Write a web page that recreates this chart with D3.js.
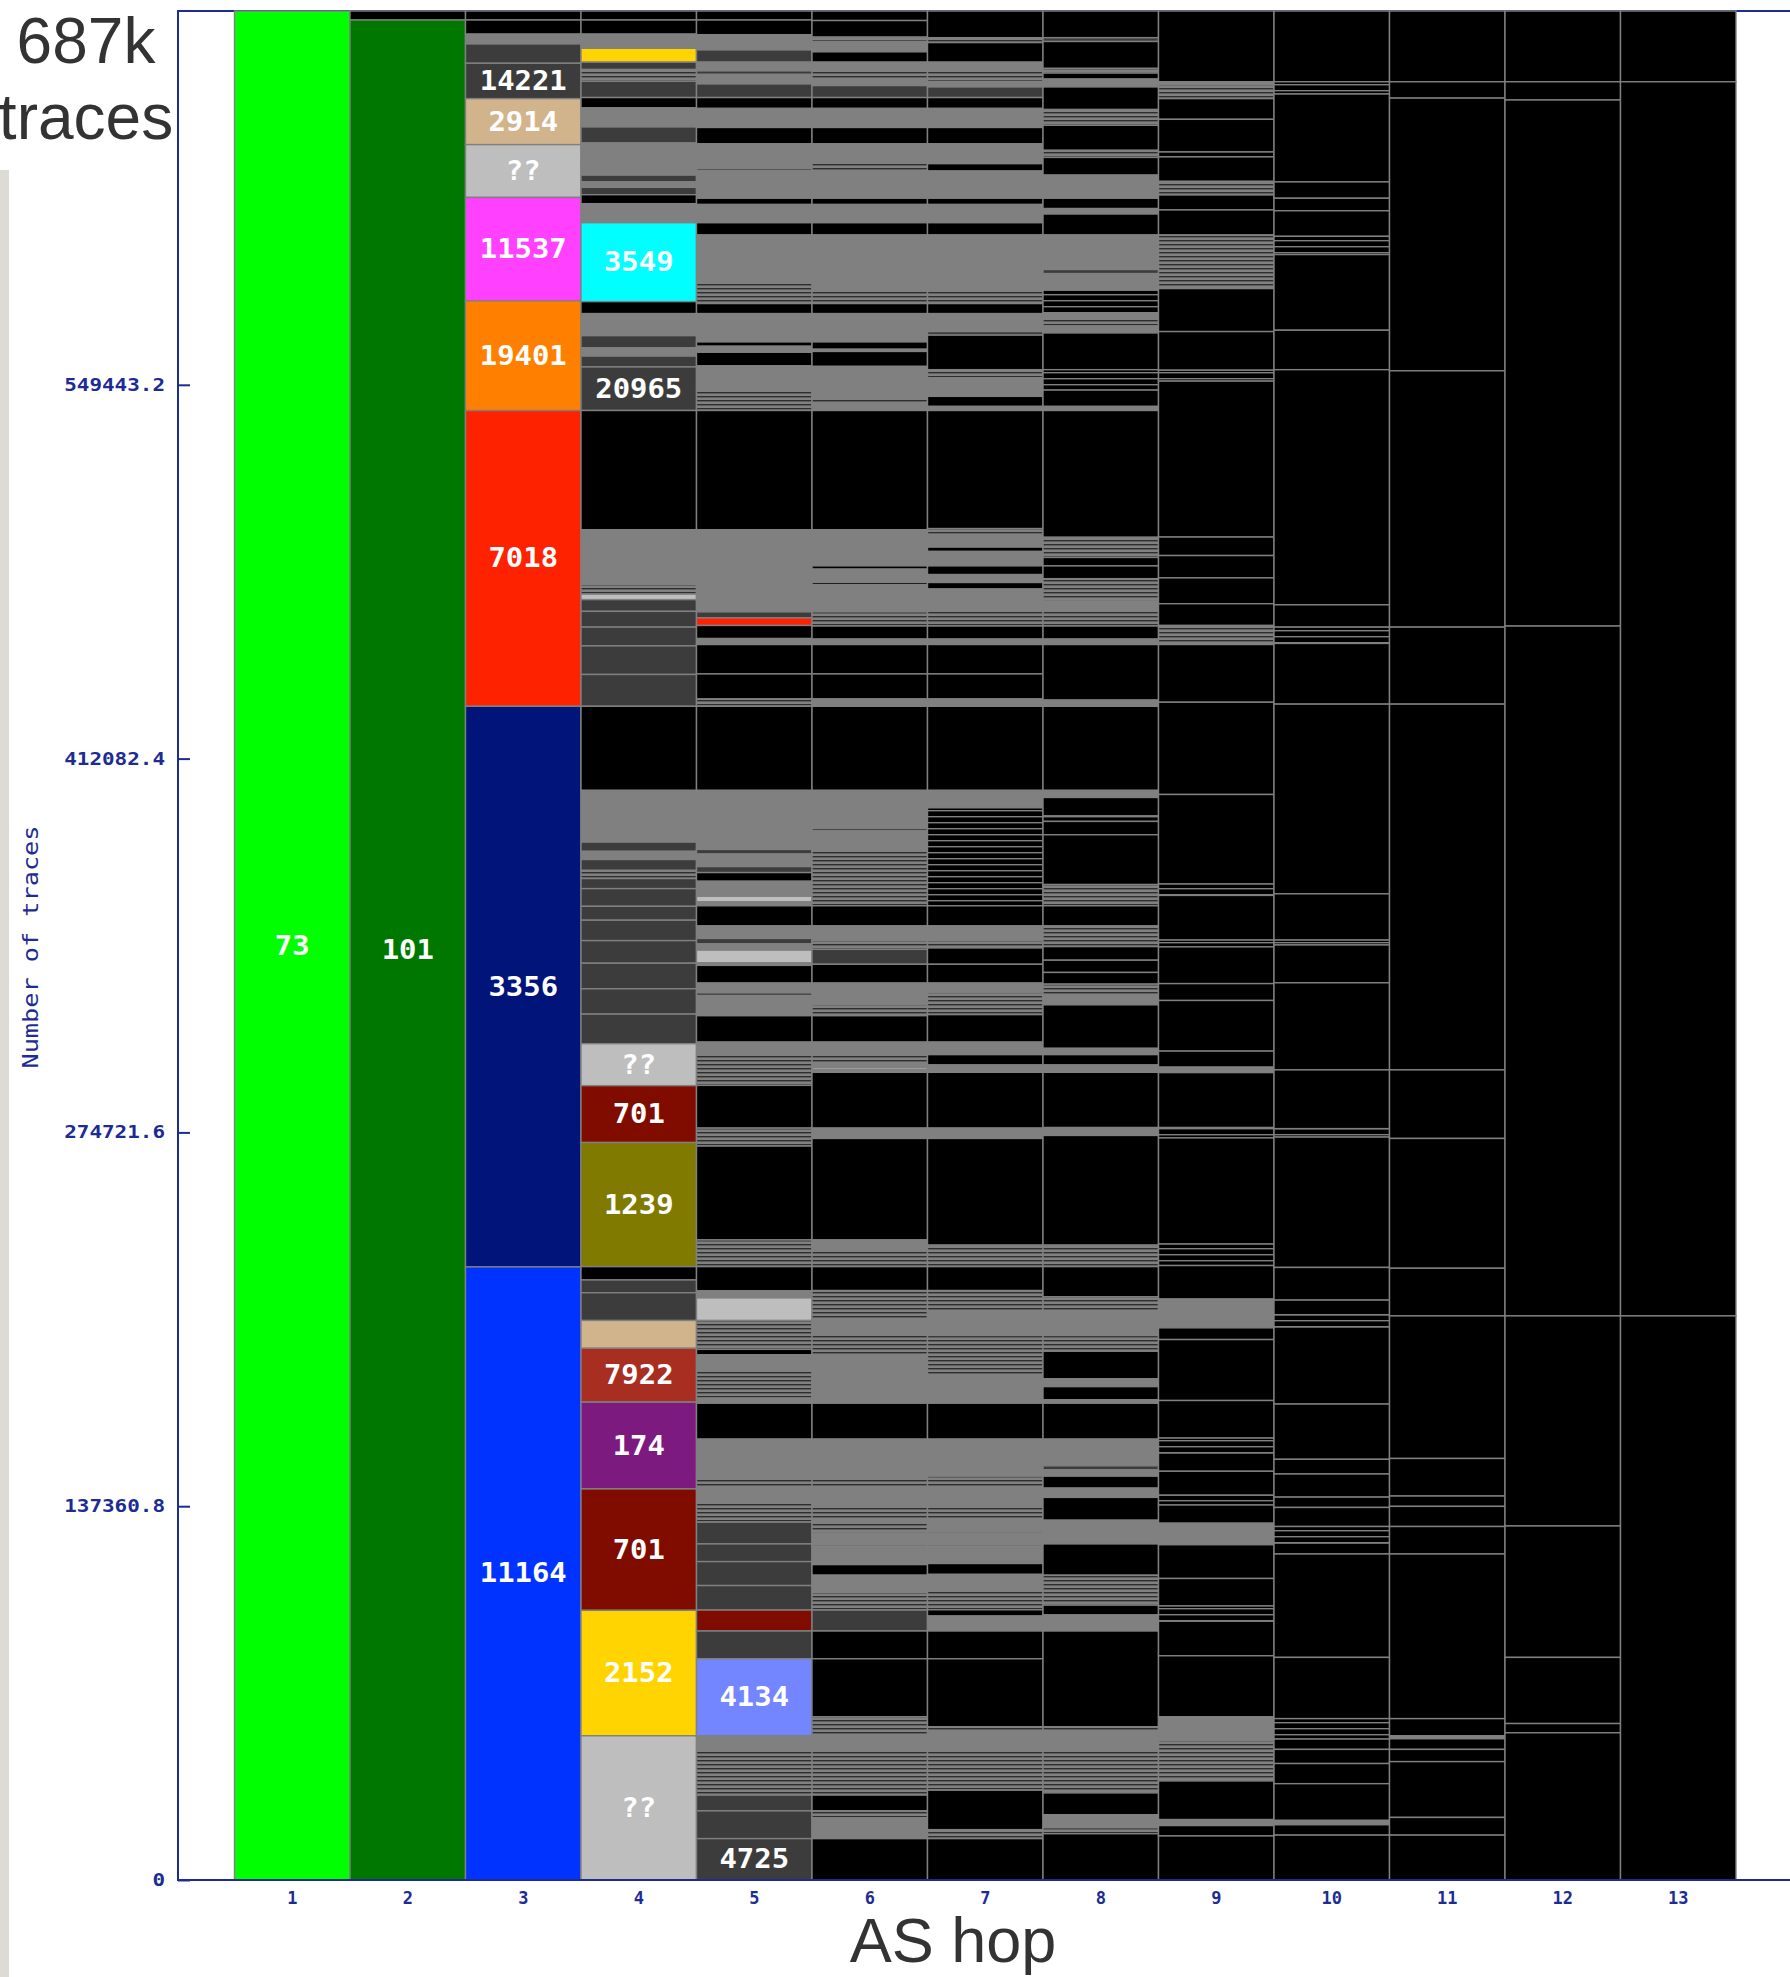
<!DOCTYPE html>
<html>
<head>
<meta charset="utf-8">
<script src="https://cdn.jsdelivr.net/npm/d3@7"></script>
<style>
  body { margin: 0; background: #fff; }
</style>
</head>
<body>
<script>
// AS hop icicle: segments per hop, values in thousands of traces [hi, lo, fill, label]
const hops = [1, 2, 3, 4, 5, 6, 7, 8, 9, 10, 11, 12, 13];
const totalTraces = 686804;
const yTicks = [0, 137360.8, 274721.6, 412082.4, 549443.2];
const yTickLabels = ["0", "137360.8", "274721.6", "412082.4", "549443.2"];

const col1 = [[686.8, 0, "lime", "73"]];
const col2 = [[686.8, 683.5, "black"], [683.5, 0, "green", "101"]];
const col3 = [
  [686.8, 683.5, "black"], [683.5, 678.3, "black"], [678.3, 674.7, "gray"], [674.7, 667.6, "dark"],
  [667.6, 654.6, "dark", "14221"], [654.6, 637.7, "tan", "2914"], [637.7, 618.3, "light", "??"],
  [618.3, 580.3, "magenta", "11537"], [580.3, 540.0, "orange", "19401"], [540.0, 431.3, "red", "7018"],
  [431.3, 225.3, "navy", "3356"], [225.3, 0, "blue", "11164"]
];
const col4 = [
  [686.8, 683.5, "black"], [683.5, 678.3, "black"], [678.3, 673.1, "gray"], [673.1, 668.0, "yellow"],
  [668.0, 665.3, "dark"], [665.3, 661.0, "lines"], [661.0, 655.0, "dark"], [655.0, 651.2, "black"],
  [651.2, 644.2, "gray"], [644.2, 638.3, "dark"], [638.3, 629.5, "gray"], [629.5, 626.5, "gray"],
  [626.5, 624.0, "dark"], [624.0, 622.0, "gray"], [622.0, 619.3, "dark"], [619.3, 616.0, "black"],
  [616.0, 609.0, "gray"], [609.0, 580.0, "cyan", "3549"], [580.0, 575.6, "black"], [575.6, 567.5, "gray"],
  [567.5, 563.0, "dark"], [563.0, 560.0, "gray"], [560.0, 556.0, "dark"], [556.0, 540.0, "dark", "20965"],
  [540.0, 496.2, "black"], [496.2, 476.1, "gray"], [476.1, 472.5, "lines"], [472.5, 470.5, "light"],
  [470.5, 466.2, "dark"], [466.2, 460.4, "dark"], [460.4, 453.5, "dark"], [453.5, 443.0, "dark"],
  [443.0, 431.3, "dark"], [431.3, 400.4, "black"], [400.4, 381.4, "gray"], [381.4, 378.0, "dark"],
  [378.0, 375.0, "gray"], [375.0, 371.0, "dark"], [371.0, 368.0, "lines"], [368.0, 364.3, "dark"],
  [364.3, 357.8, "dark"], [357.8, 352.7, "dark"], [352.7, 345.2, "dark"], [345.2, 336.9, "dark"],
  [336.9, 327.5, "dark"], [327.5, 318.2, "dark"], [318.2, 307.3, "dark"], [307.3, 291.9, "light", "??"],
  [291.9, 271.0, "maroon", "701"], [271.0, 225.4, "olive", "1239"], [225.4, 220.5, "black"],
  [220.5, 215.8, "dark"], [215.8, 205.6, "dark"], [205.6, 195.4, "tan"], [195.4, 175.6, "brick", "7922"],
  [175.6, 143.7, "purple", "174"], [143.7, 99.1, "maroon", "701"], [99.1, 53.0, "yellow", "2152"],
  [53.0, 0, "light", "??"]
];
const col5 = [
  [686.8, 683.5, "black"], [683.5, 678.1, "black"], [678.1, 672.5, "gray"], [672.5, 668.0, "dark"],
  [668.0, 664.8, "gray"], [664.8, 663.5, "dark"], [663.5, 660.0, "gray"], [660.0, 655.0, "dark"],
  [655.0, 651.0, "black"], [651.0, 644.0, "gray"], [644.0, 638.0, "black"], [638.0, 629.0, "gray"],
  [629.0, 628.2, "dark"], [628.2, 618.0, "gray"], [618.0, 615.7, "black"], [615.7, 609.0, "gray"],
  [609.0, 604.5, "black"], [604.5, 587.3, "gray"], [587.3, 579.3, "lines"], [579.3, 575.6, "black"],
  [575.6, 565.2, "gray"], [565.2, 563.6, "black"], [563.6, 561.4, "gray"], [561.4, 556.4, "black"],
  [556.4, 547.7, "gray"], [547.7, 540.0, "lines"], [540.0, 496.2, "black"], [496.2, 466.0, "gray"],
  [466.0, 463.8, "dark"], [463.8, 461.0, "red"], [461.0, 456.2, "black"], [456.2, 454.0, "gray"],
  [454.0, 443.2, "black"], [443.2, 434.0, "black"], [434.0, 431.3, "lines"], [431.3, 400.4, "black"],
  [400.4, 378.7, "gray"], [378.7, 377.0, "dark"], [377.0, 372.4, "gray"], [372.4, 370.2, "dark"],
  [370.2, 367.0, "black"], [367.0, 361.5, "gray"], [361.5, 359.5, "light"], [359.5, 358.0, "gray"],
  [358.0, 350.6, "black"], [350.6, 346.0, "gray"], [346.0, 344.0, "dark"], [344.0, 341.7, "gray"],
  [341.7, 337.0, "light"], [337.0, 336.1, "gray"], [336.1, 329.6, "black"], [329.6, 326.0, "gray"],
  [326.0, 325.0, "dark"], [325.0, 317.6, "gray"], [317.6, 307.9, "black"], [307.9, 303.1, "gray"],
  [303.1, 292.0, "lines"], [292.0, 276.3, "black"], [276.3, 269.7, "lines"], [269.7, 235.2, "black"],
  [235.2, 225.4, "lines"], [225.4, 216.5, "black"], [216.5, 213.9, "gray"], [213.9, 205.6, "light"],
  [205.6, 195.0, "lines"], [195.0, 193.0, "black"], [193.0, 187.0, "gray"], [187.0, 177.0, "lines"],
  [177.0, 175.2, "gray"], [175.2, 162.0, "black"], [162.0, 147.8, "gray"], [147.8, 144.0, "lines"],
  [144.0, 139.1, "gray"], [139.1, 131.5, "lines"], [131.5, 123.5, "dark"], [123.5, 117.0, "dark"],
  [117.0, 108.2, "dark"], [108.2, 99.2, "dark"], [99.2, 91.5, "maroon"], [91.5, 81.3, "dark"],
  [81.3, 53.0, "periwinkle", "4134"], [53.0, 47.6, "gray"], [47.6, 31.2, "lines"], [31.2, 25.4, "dark"],
  [25.4, 15.2, "dark"], [15.2, 0, "dark", "4725"]
];
const col6 = [
  [686.8, 683.3, "black"], [683.3, 677.2, "black"], [677.2, 675.6, "lines"], [675.6, 671.8, "gray"],
  [671.8, 668.0, "black"], [668.0, 664.8, "gray"], [664.8, 661.8, "lines"], [661.8, 659.4, "gray"],
  [659.4, 655.0, "dark"], [655.0, 651.0, "black"], [651.0, 644.0, "gray"], [644.0, 638.0, "black"],
  [638.0, 631.4, "gray"], [631.4, 628.0, "lines"], [628.0, 618.0, "gray"], [618.0, 615.7, "black"],
  [615.7, 609.0, "gray"], [609.0, 604.5, "black"], [604.5, 584.2, "gray"], [584.2, 579.3, "lines"],
  [579.3, 575.6, "black"], [575.6, 565.2, "gray"], [565.2, 562.5, "black"], [562.5, 561.7, "gray"],
  [561.7, 556.2, "black"], [556.2, 544.6, "gray"], [544.6, 542.1, "lines"], [542.1, 540.0, "gray"],
  [540.0, 496.2, "black"], [496.2, 482.9, "gray"], [482.9, 481.7, "black"], [481.7, 476.8, "gray"],
  [476.8, 476.0, "black"], [476.0, 466.0, "gray"], [466.0, 460.8, "lines"], [460.8, 456.0, "black"],
  [456.0, 454.0, "gray"], [454.0, 443.2, "black"], [443.2, 434.0, "black"], [434.0, 431.3, "gray"],
  [431.3, 400.4, "black"], [400.4, 386.4, "gray"], [386.4, 385.5, "dark"], [385.5, 378.7, "gray"],
  [378.7, 358.0, "lines"], [358.0, 350.6, "black"], [350.6, 345.2, "gray"], [345.2, 342.0, "lines"],
  [342.0, 336.5, "dark"], [336.5, 329.6, "black"], [329.6, 321.6, "gray"], [321.6, 317.6, "lines"],
  [317.6, 307.9, "black"], [307.9, 303.3, "gray"], [303.3, 300.0, "lines"], [300.0, 298.5, "gray"],
  [298.5, 297.8, "light"], [297.8, 296.8, "gray"], [296.8, 276.3, "black"], [276.3, 272.5, "gray"],
  [272.5, 235.2, "black"], [235.2, 231.7, "gray"], [231.7, 225.4, "lines"], [225.4, 216.6, "black"],
  [216.6, 206.0, "lines"], [206.0, 200.9, "gray"], [200.9, 192.8, "lines"], [192.8, 175.2, "gray"],
  [175.2, 162.0, "black"], [162.0, 147.8, "gray"], [147.8, 144.0, "lines"], [144.0, 137.7, "gray"],
  [137.7, 132.6, "lines"], [132.6, 131.1, "gray"], [131.1, 127.5, "lines"], [127.5, 123.1, "gray"],
  [123.1, 121.7, "lines"], [121.7, 115.9, "gray"], [115.9, 112.0, "black"], [112.0, 105.7, "gray"],
  [105.7, 99.2, "lines"], [99.2, 91.5, "dark"], [91.5, 81.3, "black"], [81.3, 60.0, "black"],
  [60.0, 53.0, "lines"], [53.0, 47.6, "gray"], [47.6, 31.2, "lines"], [31.2, 25.4, "black"],
  [25.4, 22.8, "lines"], [22.8, 15.2, "gray"], [15.2, 0, "black"]
];
const col7 = [
  [686.8, 677.0, "black"], [677.0, 675.2, "lines"], [675.2, 668.0, "black"], [668.0, 664.8, "gray"],
  [664.8, 660.9, "lines"], [660.9, 658.9, "gray"], [658.9, 655.0, "dark"], [655.0, 651.0, "black"],
  [651.0, 644.0, "gray"], [644.0, 638.0, "black"], [638.0, 630.7, "gray"], [630.7, 628.0, "black"],
  [628.0, 618.0, "gray"], [618.0, 615.7, "black"], [615.7, 609.0, "gray"], [609.0, 604.5, "black"],
  [604.5, 584.2, "gray"], [584.2, 579.3, "lines"], [579.3, 575.6, "black"], [575.6, 569.0, "gray"],
  [569.0, 567.7, "dark"], [567.7, 555.0, "black"], [555.0, 552.0, "lines"], [552.0, 545.2, "gray"],
  [545.2, 541.5, "black"], [541.5, 540.0, "gray"], [540.0, 496.6, "black"], [496.6, 494.4, "lines"],
  [494.4, 489.8, "gray"], [489.8, 488.2, "black"], [488.2, 482.9, "gray"], [482.9, 479.7, "black"],
  [479.7, 476.8, "gray"], [476.8, 474.4, "black"], [474.4, 466.2, "gray"], [466.2, 460.8, "lines"],
  [460.8, 456.0, "black"], [456.0, 454.0, "gray"], [454.0, 443.2, "black"], [443.2, 434.0, "black"],
  [434.0, 431.3, "gray"], [431.3, 400.4, "black"], [400.4, 394.0, "gray"], [394.0, 358.0, "blines"],
  [358.0, 350.6, "black"], [350.6, 345.2, "gray"], [345.2, 342.5, "lines"], [342.5, 336.5, "black"],
  [336.5, 329.6, "black"], [329.6, 326.0, "gray"], [326.0, 318.0, "lines"], [318.0, 307.9, "black"],
  [307.9, 303.3, "gray"], [303.3, 299.5, "black"], [299.5, 296.8, "gray"], [296.8, 276.3, "black"],
  [276.3, 272.5, "gray"], [272.5, 233.3, "black"], [233.3, 225.4, "lines"], [225.4, 216.6, "black"],
  [216.6, 208.5, "lines"], [208.5, 200.1, "gray"], [200.1, 184.9, "lines"], [184.9, 175.2, "gray"],
  [175.2, 162.0, "black"], [162.0, 148.4, "gray"], [148.4, 144.0, "lines"], [144.0, 137.7, "gray"],
  [137.7, 132.0, "lines"], [132.0, 128.9, "gray"], [128.9, 127.5, "lines"], [127.5, 123.1, "gray"],
  [123.1, 121.7, "lines"], [121.7, 116.3, "gray"], [116.3, 112.3, "black"], [112.3, 106.4, "gray"],
  [106.4, 99.3, "lines"], [99.3, 97.0, "black"], [97.0, 91.5, "gray"], [91.5, 81.3, "black"],
  [81.3, 56.3, "black"], [56.3, 54.8, "lines"], [54.8, 47.6, "gray"], [47.6, 33.0, "lines"],
  [33.0, 18.5, "black"], [18.5, 15.2, "lines"], [15.2, 0, "black"]
];
const col8 = [
  [686.8, 677.0, "black"], [677.0, 675.6, "dark"], [675.6, 665.7, "black"], [665.7, 664.0, "lines"],
  [664.0, 661.8, "black"], [661.8, 658.9, "gray"], [658.9, 650.6, "black"], [650.6, 644.8, "lines"],
  [644.8, 635.6, "black"], [635.6, 633.0, "lines"], [633.0, 626.5, "black"], [626.5, 618.0, "gray"],
  [618.0, 614.2, "black"], [614.2, 612.2, "gray"], [612.2, 604.5, "black"], [604.5, 591.8, "gray"],
  [591.8, 590.3, "dark"], [590.3, 584.2, "gray"], [584.2, 575.6, "blines"], [575.6, 573.6, "gray"],
  [573.6, 571.0, "lines"], [571.0, 568.5, "gray"], [568.5, 555.0, "black"], [555.0, 547.5, "blines"],
  [547.5, 541.5, "black"], [541.5, 540.0, "gray"], [540.0, 493.4, "black"], [493.4, 486.0, "lines"],
  [486.0, 482.9, "black"], [482.9, 478.2, "black"], [478.2, 470.0, "lines"], [470.0, 466.2, "gray"],
  [466.2, 460.8, "lines"], [460.8, 456.0, "black"], [456.0, 454.0, "gray"], [454.0, 433.6, "black"],
  [433.6, 431.3, "gray"], [431.3, 400.4, "black"], [400.4, 397.8, "gray"], [397.8, 391.0, "black"],
  [391.0, 389.0, "blines"], [389.0, 384.1, "black"], [384.1, 365.8, "black"], [365.8, 358.0, "lines"],
  [358.0, 350.6, "black"], [350.6, 343.0, "lines"], [343.0, 338.0, "black"], [338.0, 333.5, "black"],
  [333.5, 329.2, "black"], [329.2, 324.7, "lines"], [324.7, 321.6, "gray"], [321.6, 305.6, "black"],
  [305.6, 303.3, "gray"], [303.3, 299.5, "black"], [299.5, 296.8, "gray"], [296.8, 276.5, "black"],
  [276.5, 273.6, "gray"], [273.6, 233.3, "black"], [233.3, 225.4, "lines"], [225.4, 214.3, "black"],
  [214.3, 208.5, "lines"], [208.5, 200.1, "gray"], [200.1, 194.3, "lines"], [194.3, 184.2, "black"],
  [184.2, 181.3, "gray"], [181.3, 176.5, "black"], [176.5, 175.2, "gray"], [175.2, 162.0, "black"],
  [162.0, 152.2, "gray"], [152.2, 150.7, "dark"], [150.7, 148.4, "gray"], [148.4, 144.0, "black"],
  [144.0, 140.6, "gray"], [140.6, 132.2, "black"], [132.2, 123.5, "gray"], [123.5, 112.0, "black"],
  [112.0, 101.0, "lines"], [101.0, 97.4, "black"], [97.4, 91.5, "gray"], [91.5, 56.3, "black"],
  [56.3, 54.8, "lines"], [54.8, 47.6, "gray"], [47.6, 32.0, "lines"], [32.0, 24.0, "black"],
  [24.0, 19.2, "gray"], [19.2, 17.0, "lines"], [17.0, 0, "black"]
];
const col9 = [
  [686.8, 660.8, "black"], [660.8, 659.7, "gray"], [659.7, 654.6, "lines"], [654.6, 647.0, "black"],
  [647.0, 635.0, "black"], [635.0, 633.2, "blines"], [633.2, 624.2, "black"], [624.2, 619.2, "lines"],
  [619.2, 613.7, "black"], [613.7, 604.5, "black"], [604.5, 584.8, "lines"], [584.8, 569.0, "black"],
  [569.0, 554.8, "black"], [554.8, 550.8, "blines"], [550.8, 493.5, "black"], [493.5, 486.7, "black"],
  [486.7, 478.5, "black"], [478.5, 469.0, "black"], [469.0, 461.0, "black"], [461.0, 454.0, "lines"],
  [454.0, 432.8, "black"], [432.8, 398.9, "black"], [398.9, 366.0, "black"], [366.0, 361.8, "blines"],
  [361.8, 345.4, "black"], [345.4, 342.9, "blines"], [342.9, 329.4, "black"], [329.4, 323.2, "black"],
  [323.2, 304.6, "black"], [304.6, 298.7, "black"], [298.7, 296.7, "gray"], [296.7, 276.5, "black"],
  [276.5, 272.7, "blines"], [272.7, 233.7, "black"], [233.7, 225.8, "blines"], [225.8, 213.5, "black"],
  [213.5, 202.9, "gray"], [202.9, 198.6, "black"], [198.6, 176.2, "black"], [176.2, 162.4, "black"],
  [162.4, 156.9, "blines"], [156.9, 150.2, "black"], [150.2, 141.4, "black"], [141.4, 137.8, "blines"],
  [137.8, 131.1, "black"], [131.1, 123.2, "gray"], [123.2, 110.8, "black"], [110.8, 100.7, "black"],
  [100.7, 95.1, "blines"], [95.1, 82.4, "black"], [82.4, 60.0, "black"], [60.0, 51.2, "gray"],
  [51.2, 36.4, "lines"], [36.4, 22.2, "black"], [22.2, 20.0, "gray"], [20.0, 16.2, "black"],
  [16.2, 0, "black"]
];
const col10 = [
  [686.8, 660.8, "black"], [660.8, 656.3, "blines"], [656.3, 624.0, "black"], [624.0, 618.0, "black"],
  [618.0, 613.4, "black"], [613.4, 604.0, "black"], [604.0, 597.3, "blines"], [597.3, 569.5, "black"],
  [569.5, 555.0, "black"], [555.0, 468.6, "black"], [468.6, 460.4, "black"], [460.4, 454.4, "blines"],
  [454.4, 432.1, "black"], [432.1, 362.4, "black"], [362.4, 345.4, "black"], [345.4, 343.6, "blines"],
  [343.6, 329.7, "black"], [329.7, 297.7, "black"], [297.7, 276.1, "black"], [276.1, 273.0, "blines"],
  [273.0, 225.1, "black"], [225.1, 213.1, "black"], [213.1, 207.7, "black"], [207.7, 203.2, "blines"],
  [203.2, 174.9, "black"], [174.9, 154.6, "black"], [154.6, 149.2, "black"], [149.2, 140.7, "black"],
  [140.7, 136.9, "black"], [136.9, 129.9, "black"], [129.9, 123.8, "blines"], [123.8, 119.8, "black"],
  [119.8, 81.8, "black"], [81.8, 59.3, "black"], [59.3, 51.8, "blines"], [51.8, 48.0, "black"],
  [48.0, 42.8, "black"], [42.8, 35.4, "black"], [35.4, 21.9, "black"], [21.9, 20.3, "gray"],
  [20.3, 16.5, "black"], [16.5, 0, "black"]
];
const col11 = [
  [686.8, 660.8, "black"], [660.8, 654.8, "black"], [654.8, 554.6, "black"], [554.6, 460.4, "black"],
  [460.4, 432.1, "black"], [432.1, 297.7, "black"], [297.7, 272.5, "black"], [272.5, 224.8, "black"],
  [224.8, 207.3, "black"], [207.3, 154.9, "black"], [154.9, 141.1, "black"], [141.1, 137.3, "black"],
  [137.3, 129.9, "black"], [129.9, 119.8, "black"], [119.8, 59.3, "black"], [59.3, 53.0, "black"],
  [53.0, 51.9, "gray"], [51.9, 48.0, "black"], [48.0, 43.5, "black"], [43.5, 23.0, "black"],
  [23.0, 16.5, "black"], [16.5, 0, "black"]
];
const col12 = [
  [686.8, 660.8, "black"], [660.8, 654.1, "black"], [654.1, 460.8, "black"], [460.8, 207.3, "black"],
  [207.3, 130.1, "black"], [130.1, 81.8, "black"], [81.8, 57.5, "black"], [57.5, 54.1, "black"],
  [54.1, 0, "black"]
];
const col13 = [[686.8, 660.8, "black"], [660.8, 207.3, "black"], [207.3, 0, "black"]];

const columns = [col1, col2, col3, col4, col5, col6, col7, col8, col9, col10, col11, col12, col13];

const palette = {
  black: "#000000", gray: "#808080", dark: "#3c3c3c", light: "#bebebe",
  lime: "#00ff00", green: "#007800", tan: "#d2b48c", magenta: "#ff40ff",
  orange: "#ff8000", red: "#ff2200", navy: "#00147a", blue: "#0033ff",
  cyan: "#00ffff", yellow: "#ffd400", olive: "#807a00", maroon: "#800c00",
  brick: "#a82e22", purple: "#7d1a7f", periwinkle: "#7385ff",
  lines: "url(#lines)", blines: "url(#blines)"
};

const width = 1790;
const height = 1977;
const plot = { left: 178, top: 11, bottom: 1880, right: 1800 };
const axisBlue = "#1c2c94";

const xScale = d3.scaleBand().domain(hops).range([234.5, 1736]).padding(0);
const yScale = d3.scaleLinear().domain([0, totalTraces]).range([plot.bottom, plot.top]);

const svg = d3
  .select("body")
  .append("svg")
  .attr("width", width)
  .attr("height", height)
  .attr("viewBox", [0, 0, width, height]);

// stripe patterns for the dense bands of tiny cells
const defs = svg.append("defs");
const p1 = defs.append("pattern").attr("id", "lines")
  .attr("patternUnits", "userSpaceOnUse").attr("width", 8).attr("height", 4);
p1.append("rect").attr("width", 8).attr("height", 4).attr("fill", "#808080");
p1.append("rect").attr("width", 8).attr("height", 1.4).attr("fill", "#2e2e2e");
const p2 = defs.append("pattern").attr("id", "blines")
  .attr("patternUnits", "userSpaceOnUse").attr("width", 8).attr("height", 6);
p2.append("rect").attr("width", 8).attr("height", 6).attr("fill", "#000");
p2.append("rect").attr("width", 8).attr("height", 1.4).attr("fill", "#808080");

// slide edge on the left
svg.append("rect").attr("x", 0).attr("y", 170).attr("width", 9).attr("height", height - 170)
  .attr("fill", "#dcdcd5");

// plot frame
svg.append("rect")
  .attr("x", plot.left).attr("y", plot.top)
  .attr("width", plot.right - plot.left).attr("height", plot.bottom - plot.top)
  .attr("fill", "#fff").attr("stroke", axisBlue).attr("stroke-width", 2);

// flatten the columns into cells
const cells = [];
columns.forEach((col, i) => {
  col.forEach((s) => cells.push({ hop: hops[i], hi: s[0] * 1000, lo: s[1] * 1000, fill: s[2], label: s[3] }));
});

const cellLayer = svg.append("g");
cellLayer.selectAll("rect")
  .data(cells)
  .join("rect")
  .attr("x", (d) => xScale(d.hop))
  .attr("y", (d) => yScale(d.hi))
  .attr("width", xScale.bandwidth())
  .attr("height", (d) => yScale(d.lo) - yScale(d.hi))
  .attr("fill", (d) => palette[d.fill])
  .attr("stroke", "#808080")
  .attr("stroke-width", 1.4);

cellLayer.selectAll("text")
  .data(cells.filter((d) => d.label))
  .join("text")
  .attr("x", (d) => xScale(d.hop) + xScale.bandwidth() / 2)
  .attr("y", (d) => (yScale(d.hi) + yScale(d.lo)) / 2)
  .attr("text-anchor", "middle")
  .attr("dominant-baseline", "central")
  .attr("font-family", "DejaVu Sans Mono")
  .attr("font-weight", "bold")
  .attr("font-size", 26)
  .attr("textLength", (d) => d.label.length * 17.4)
  .attr("lengthAdjust", "spacingAndGlyphs")
  .attr("fill", "#fff")
  .text((d) => d.label);

// y axis
const yAxis = d3.axisLeft(yScale)
  .tickValues(yTicks)
  .tickFormat((d, i) => yTickLabels[i])
  .tickSize(-12)
  .tickSizeOuter(0)
  .tickPadding(13);
svg.append("g")
  .attr("transform", `translate(${plot.left},0)`)
  .call(yAxis)
  .call((g) => g.select(".domain").remove())
  .call((g) => g.selectAll(".tick line").attr("stroke", axisBlue).attr("stroke-width", 2))
  .call((g) => g.selectAll(".tick text")
    .attr("fill", axisBlue)
    .attr("font-family", "DejaVu Sans Mono")
    .attr("font-weight", "bold")
    .attr("font-size", 17)
    .attr("textLength", (d, i) => yTickLabels[i].length * 12.6)
    .attr("lengthAdjust", "spacingAndGlyphs"));

// x axis
const xAxis = d3.axisBottom(xScale).tickSize(0).tickPadding(12);
svg.append("g")
  .attr("transform", `translate(0,${plot.bottom})`)
  .call(xAxis)
  .call((g) => g.select(".domain").remove())
  .call((g) => g.selectAll(".tick text")
    .attr("fill", axisBlue)
    .attr("font-family", "DejaVu Sans Mono")
    .attr("font-weight", "bold")
    .attr("font-size", 17));

// redraw frame edges over the cells
svg.append("line").attr("x1", plot.left).attr("x2", plot.left).attr("y1", plot.top).attr("y2", plot.bottom)
  .attr("stroke", axisBlue).attr("stroke-width", 2);
svg.append("line").attr("x1", plot.left).attr("x2", width).attr("y1", plot.bottom).attr("y2", plot.bottom)
  .attr("stroke", axisBlue).attr("stroke-width", 2);

// axis titles
svg.append("text")
  .attr("transform", "translate(38,947) rotate(-90)")
  .attr("text-anchor", "middle")
  .attr("font-family", "DejaVu Sans Mono")
  .attr("font-size", 21)
  .attr("textLength", 243)
  .attr("lengthAdjust", "spacingAndGlyphs")
  .attr("fill", axisBlue)
  .text("Number of traces");

svg.append("text")
  .attr("x", 953).attr("y", 1962)
  .attr("text-anchor", "middle")
  .attr("font-family", "Liberation Sans")
  .attr("font-size", 63)
  .attr("fill", "#333")
  .text("AS hop");

svg.append("text")
  .attr("x", 86).attr("y", 63)
  .attr("text-anchor", "middle")
  .attr("font-family", "Liberation Sans")
  .attr("font-size", 64)
  .attr("fill", "#333")
  .text("687k");
svg.append("text")
  .attr("x", 86).attr("y", 139)
  .attr("text-anchor", "middle")
  .attr("font-family", "Liberation Sans")
  .attr("font-size", 64)
  .attr("fill", "#333")
  .text("traces");
</script>
</body>
</html>
